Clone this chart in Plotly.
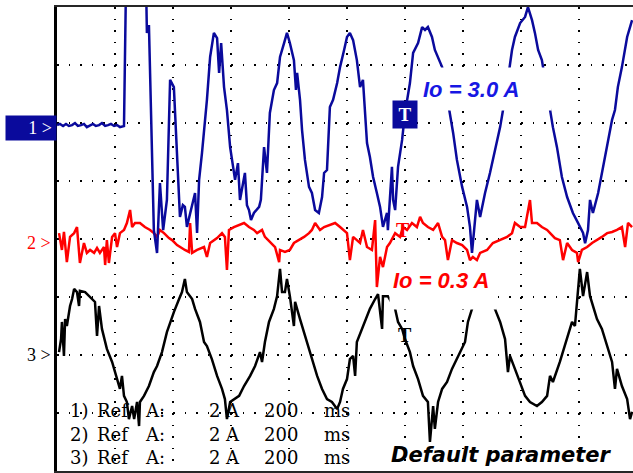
import plotly.graph_objects as go

# ---------------- data (time in ms, current in A) ----------------
CH1_T = [0, 10, 21, 31, 41, 52, 62, 72, 83, 93, 103, 114, 124, 134, 145, 155, 166, 176, 186, 197, 207, 217, 231,
         238, 307, 310, 317, 334, 345, 355, 366, 379, 390, 403, 414, 424, 434, 441, 448, 459, 476, 483, 490, 500,
         517, 528, 541, 552, 559, 566, 576, 586, 597, 614, 624, 631, 648, 655, 662, 669, 679, 697, 703, 714, 724,
         734, 748, 759, 769, 783, 793, 803, 817, 824, 828, 838, 845, 855, 869, 879, 890, 903, 914, 921, 931, 941,
         952, 966, 976, 990, 1000, 1010, 1021, 1034, 1045, 1055, 1062, 1069, 1079, 1090, 1103, 1114, 1124, 1138,
         1141, 1155, 1159, 1166, 1176, 1190, 1200, 1217, 1228, 1245, 1259, 1269, 1279, 1293, 1303, 1314, 1328,
         1341, 1355, 1366, 1379, 1397, 1414, 1424, 1431, 1441, 1448, 1459, 1476, 1493, 1517, 1528, 1538, 1552,
         1569, 1579, 1597, 1614, 1624, 1638, 1648, 1659, 1672, 1686, 1700, 1710, 1724, 1741, 1759, 1779, 1797,
         1814, 1821, 1831, 1838, 1848, 1866, 1883, 1897, 1914, 1924, 1934, 1948, 1966, 1983]
CH1_I = [0.10, 0.14, 0.07, 0.14, 0.07, 0.10, 0.17, 0.07, 0.10, 0.14, 0.03, 0.10, 0.14, 0.07, 0.10, 0.17, 0.07,
         0.10, 0.14, 0.07, 0.10, 0.03, 0.07,
         5.0, 5.0, 3.28, 3.55, -3.52, -4.31, -1.90, -3.52, -2.48, 1.66, 1.41, -0.76, -3.07, -2.66, -2.72, -3.41,
         -2.93, -2.24, -3.62, -1.79, -0.86, 0.97, 2.45, 3.28, 3.10, 1.90, 2.93, 1.41, 0.62, -0.66, -1.79, -1.21,
         -2.48, -1.55, -2.66, -2.83, -3.17, -2.93, -2.72, -2.48, -0.66, -1.55, 0.52, 1.31, 1.55, 2.45, 2.93, 3.28,
         2.93, 2.34, 1.31, 1.90, 0.97, -0.07, -1.10, -2.03, -2.24, -2.83, -2.93, -2.38, -1.55, -1.45, 0.72, 0.97,
         1.55, 2.10, 2.69, 3.14, 3.28, 3.03, 2.34, 1.41, 1.66, 0.62, -0.52, -1.00, -1.69, -2.24, -2.72, -3.41,
         -2.93, -3.52, -1.34, -2.48, -2.83, -1.34, -0.41, 0.52, 1.55, 2.59, 2.93, 3.48, 3.38, 3.48, 3.14, 2.69,
         2.45, 2.10, 1.31, 0.52, -0.17, -1.10, -2.03, -2.72, -3.41, -4.31, -3.17, -2.48, -3.07, -2.24, -1.55,
         -0.52, 0.03, 0.62, 1.48, 2.69, 3.14, 3.62, 3.83, 4.17, 3.72, 3.28, 2.69, 2.34, 1.48, 0.62, 0.03, -0.66,
         -1.69, -2.38, -2.93, -3.28, -3.62, -3.97, -3.52, -2.48, -2.93, -2.24, -1.34, -0.66, 0.28, 0.62, 1.41,
         2.10, 3.14, 3.72]

CH2_T = [7, 17, 24, 34, 45, 59, 69, 76, 79, 93, 103, 114, 128, 138, 148, 162, 166, 172, 179, 190, 200, 207, 217,
         231, 241, 252, 259, 269, 286, 303, 321, 334, 345, 355, 369, 386, 397, 414, 424, 441, 455, 459, 466, 483,
         507, 517, 528, 552, 569, 579, 586, 593, 610, 628, 645, 662, 679, 690, 707, 717, 734, 752, 766, 769, 786,
         803, 817, 834, 852, 869, 879, 890, 907, 921, 941, 959, 976, 986, 1000, 1010, 1021, 1034, 1045, 1055,
         1069, 1086, 1097, 1103, 1114, 1124, 1138, 1148, 1166, 1183, 1193, 1207, 1224, 1241, 1252, 1262, 1279,
         1297, 1314, 1328, 1338, 1348, 1362, 1379, 1397, 1414, 1424, 1434, 1448, 1459, 1483, 1503, 1528, 1552,
         1569, 1579, 1597, 1614, 1631, 1638, 1655, 1672, 1690, 1700, 1717, 1734, 1745, 1759, 1776, 1793, 1797,
         1810, 1828, 1845, 1862, 1879, 1897, 1914, 1931, 1948, 1959, 1969, 1983]
CH2_I = [0.34, -0.24, 0.38, -0.66, 0.21, 0.34, 0.55, -0.34, -0.69, 0.00, -0.34, -0.24, -0.34, -0.17, -0.34,
         -0.14, -0.76, 0.10, -0.69, 0.21, 0.34, -0.14, 0.34, 0.45, 0.69, 1.14, 0.55, 0.69, 0.69, 0.55, 0.45, 0.34,
         0.21, 0.45, 0.34, 0.17, 0.10, -0.07, -0.14, -0.24, -0.31, 0.69, -0.34, -0.24, -0.14, -0.48, 0.00, 0.17,
         0.34, 0.21, -0.93, 0.45, 0.55, 0.62, 0.69, 0.55, 0.45, 0.34, 0.45, 0.21, 0.03, -0.14, -0.66, -0.24,
         -0.31, -0.24, 0.00, 0.10, 0.21, 0.34, 0.45, 0.69, 0.45, 0.55, 0.62, 0.69, 0.55, 0.45, 0.34, -0.59, 0.21,
         0.10, 0.00, 0.45, -0.14, -0.24, 0.79, -1.52, -0.48, -0.83, -0.14, 0.00, 0.34, 0.21, 0.55, 0.45, 0.69,
         0.55, 0.90, 0.69, 0.55, 0.45, 0.69, 0.21, 0.10, -0.59, 0.10, 0.00, -0.07, -0.24, -0.59, -0.48, -0.59,
         -0.34, -0.24, 0.00, 0.10, 0.21, 0.34, 0.69, 0.55, 0.55, 1.48, 0.69, 0.69, 0.55, 0.45, 0.34, 0.17, 0.10,
         -0.59, 0.00, -0.24, -0.34, -0.66, -0.24, -0.14, 0.00, 0.10, 0.21, 0.34, 0.38, 0.45, 0.55, -0.14, 0.69,
         0.55]

CH3_T = [7, 14, 17, 24, 28, 34, 45, 52, 59, 69, 76, 79, 97, 114, 131, 138, 145, 155, 172, 190, 207, 217, 224,
         231, 241, 248, 259, 266, 276, 283, 286, 300, 317, 334, 345, 362, 379, 390, 403, 421, 431, 441, 448, 466,
         476, 493, 507, 517, 534, 552, 569, 579, 586, 597, 610, 628, 645, 666, 683, 700, 707, 717, 731, 748, 759,
         769, 776, 786, 793, 803, 817, 821, 838, 855, 872, 897, 914, 931, 948, 966, 976, 986, 1000, 1010, 1021,
         1028, 1034, 1055, 1079, 1097, 1107, 1121, 1124, 1141, 1166, 1176, 1190, 1200, 1217, 1228, 1245, 1262,
         1279, 1286, 1297, 1303, 1314, 1328, 1345, 1362, 1379, 1397, 1407, 1417, 1431, 1469, 1510, 1528, 1545,
         1555, 1562, 1579, 1597, 1614, 1631, 1655, 1672, 1690, 1700, 1710, 1734, 1759, 1776, 1786, 1793, 1803,
         1814, 1828, 1838, 1848, 1862, 1879, 1897, 1914, 1924, 1931, 1948, 1966, 1976, 1983]
CH3_I = [0.10, 0.55, 1.14, -0.03, 1.24, 1.00, 1.69, 1.93, 2.28, 2.17, 1.69, 2.21, 2.17, 2.00, 1.83, 0.66, 1.69,
         0.90, 0.21, -0.24, -0.83, -1.17, -0.72, -1.41, -1.62, -2.21, -1.76, -2.21, -1.62, -2.45, -1.62, -1.41,
         -1.07, -0.59, -0.38, 0.10, 0.79, 1.14, 1.48, 1.93, 2.17, 2.62, 2.17, 1.93, 1.59, 1.14, 0.45, 0.31, -0.14,
         -0.72, -1.17, -1.52, -2.21, -1.62, -1.52, -1.41, -1.07, -0.72, -0.38, 0.10, -0.24, 0.45, 1.14, 1.59,
         2.03, 2.97, 2.17, 2.17, 2.62, 2.03, 1.00, 1.83, 1.24, 0.66, 0.10, -0.72, -1.17, -1.52, -1.62, -1.86,
         -1.62, -1.17, -0.83, -0.14, -0.03, -0.72, 0.45, 1.00, 1.59, 1.93, 2.10, 0.90, 2.03, 2.03, 1.59, 1.14,
         0.90, 0.55, 0.10, -0.38, -0.83, -1.41, -1.62, -3.00, -1.76, -2.55, -1.62, -1.17, -0.93, -0.48, -0.14,
         0.21, 0.45, 1.14, 1.59, 2.45, 1.59, 1.14, 0.55, -0.59, -0.03, -0.48, -0.93, -1.41, -1.62, -1.76, -1.62,
         -1.41, -0.72, -0.93, -0.24, 0.55, 1.14, 1.00, 1.83, 2.97, 2.03, 2.86, 2.03, 1.69, 1.24, 0.90, 0.31,
         -0.24, -1.17, -0.48, -1.07, -1.52, -2.21, -1.96]

CHANNEL_NAMES = ["1", "2", "3"]
REF_LABELS = ["1) Ref A:", "2) Ref A:", "3) Ref A:"]
SCALE_LABELS = ["2 A", "2 A", "2 A"]
TIMEBASE_LABELS = ["200 ms", "200 ms", "200 ms"]
LOAD_LABELS = ["Io = 3.0 A", "Io = 0.3 A"]
CAPTION = "Default parameter"
TRIGGER_MARK = "T"

# ---------------- styling / geometry ----------------
W, H = 633, 473
ML, MR, MT, MB = 57, 0, 7, 2
PW, PH = W - ML - MR, H - MT - MB          # 576 x 464
DIV = 58.0                                  # pixels per division
MS_PER_DIV = 200
A_PER_DIV = 2
X_RANGE = [0, PW / DIV * MS_PER_DIV]

NAVY = "#0A0A9C"
BLUE_TXT = "#1717E3"
RED = "#FF0000"
BLACK = "#000000"

def ch_range(zero_px):
    top = (zero_px - MT) / DIV * A_PER_DIV
    bot = -(MT + PH - zero_px) / DIV * A_PER_DIV
    return [bot, top]

def px_x(px):
    return (px - ML) / PW

def px_y(py):
    return (MT + PH - py) / PH

fig = go.Figure()
fig.add_trace(go.Scatter(x=CH3_T, y=CH3_I, mode="lines", yaxis="y",
                         line=dict(color=BLACK, width=2.5), showlegend=False))
fig.add_trace(go.Scatter(x=CH2_T, y=CH2_I, mode="lines", yaxis="y2",
                         line=dict(color=RED, width=2.5), showlegend=False))
fig.add_trace(go.Scatter(x=CH1_T, y=CH1_I, mode="lines", yaxis="y3",
                         line=dict(color=NAVY, width=2.5), showlegend=False))

dotdash = "1.5px,10.1px"
fig.update_layout(
    width=W, height=H,
    margin=dict(l=ML, r=MR, t=MT, b=MB, pad=0),
    paper_bgcolor="white", plot_bgcolor="white",
    xaxis=dict(range=X_RANGE, tick0=0, dtick=MS_PER_DIV, showticklabels=False, ticks="",
               showgrid=True, gridcolor="black", gridwidth=1.5, griddash=dotdash,
               zeroline=False, showline=True, mirror=True, linecolor="#262626", linewidth=2),
    yaxis=dict(range=ch_range(355), tick0=0, dtick=A_PER_DIV, showticklabels=False, ticks="",
               showgrid=True, gridcolor="black", gridwidth=1.5, griddash=dotdash,
               zeroline=False, showline=True, linecolor="black", linewidth=3),
    yaxis2=dict(range=ch_range(243), overlaying="y", visible=False),
    yaxis3=dict(range=ch_range(128), overlaying="y", visible=False),
)

anns = []
# channel ground markers
anns.append(dict(text=CHANNEL_NAMES[0] + " >", xref="paper", yref="y3", x=0, y=0,
                 xanchor="right", yanchor="middle", showarrow=False,
                 font=dict(family="Liberation Serif", size=18, color="white"),
                 bgcolor=NAVY, width=42, height=16, borderpad=4, align="right"))
anns.append(dict(text=CHANNEL_NAMES[1] + " >", xref="paper", yref="y2", x=0, y=0,
                 xanchor="right", yanchor="middle", xshift=-4, showarrow=False,
                 font=dict(family="Liberation Serif", size=18, color=RED)))
anns.append(dict(text=CHANNEL_NAMES[2] + " >", xref="paper", yref="y", x=0, y=0,
                 xanchor="right", yanchor="middle", xshift=-4, showarrow=False,
                 font=dict(family="Liberation Serif", size=18, color=BLACK)))

# trigger markers
anns.append(dict(text="<b>" + TRIGGER_MARK + "</b>", xref="paper", yref="paper", x=px_x(405), y=px_y(115),
                 xanchor="center", yanchor="middle", showarrow=False,
                 font=dict(family="Liberation Serif", size=19, color="white"),
                 bgcolor=NAVY, width=18, borderpad=3))
anns.append(dict(text="<b>" + TRIGGER_MARK + "</b>", xref="paper", yref="paper", x=px_x(403), y=px_y(230),
                 xanchor="center", yanchor="middle", showarrow=False,
                 font=dict(family="Liberation Serif", size=20, color=RED)))
anns.append(dict(text="<b>" + TRIGGER_MARK + "</b>", xref="paper", yref="paper", x=px_x(405), y=px_y(335),
                 xanchor="center", yanchor="middle", showarrow=False,
                 font=dict(family="Liberation Serif", size=20, color=BLACK)))

# load labels
anns.append(dict(text="<b><i>" + LOAD_LABELS[0] + "</i></b>", xref="paper", yref="paper",
                 x=px_x(418), y=px_y(89), xanchor="left", yanchor="middle", showarrow=False,
                 font=dict(family="Liberation Sans", size=22, color=BLUE_TXT),
                 bgcolor="white", width=124, height=34, borderpad=4, align="left"))
anns.append(dict(text="<b><i>" + LOAD_LABELS[1] + "</i></b>", xref="paper", yref="paper",
                 x=px_x(389), y=px_y(264), xanchor="left", yanchor="top", showarrow=False,
                 font=dict(family="Liberation Sans", size=22, color=RED),
                 bgcolor="white", width=100, height=38, borderpad=3, align="left", valign="top"))

# caption
anns.append(dict(text="<b><i>" + CAPTION + "</i></b>", xref="paper", yref="paper",
                 x=px_x(389), y=px_y(455), xanchor="left", yanchor="middle", showarrow=False,
                 font=dict(family="DejaVu Sans", size=21, color=BLACK)))

# reference read-out (one annotation per word to keep the wide spacing)
word_x = [68, 95, 143, 207, 223, 262, 322]
row_y = [410, 434, 457]
for i in range(3):
    words = REF_LABELS[i].split() + SCALE_LABELS[i].split() + TIMEBASE_LABELS[i].split()
    for w, wx in zip(words, word_x):
        anns.append(dict(text=w, xref="paper", yref="paper", x=px_x(wx), y=px_y(row_y[i]),
                         xanchor="left", yanchor="middle", showarrow=False,
                         font=dict(family="DejaVu Serif", size=18, color=BLACK)))

fig.update_layout(annotations=anns)
fig.write_html("out.html")
